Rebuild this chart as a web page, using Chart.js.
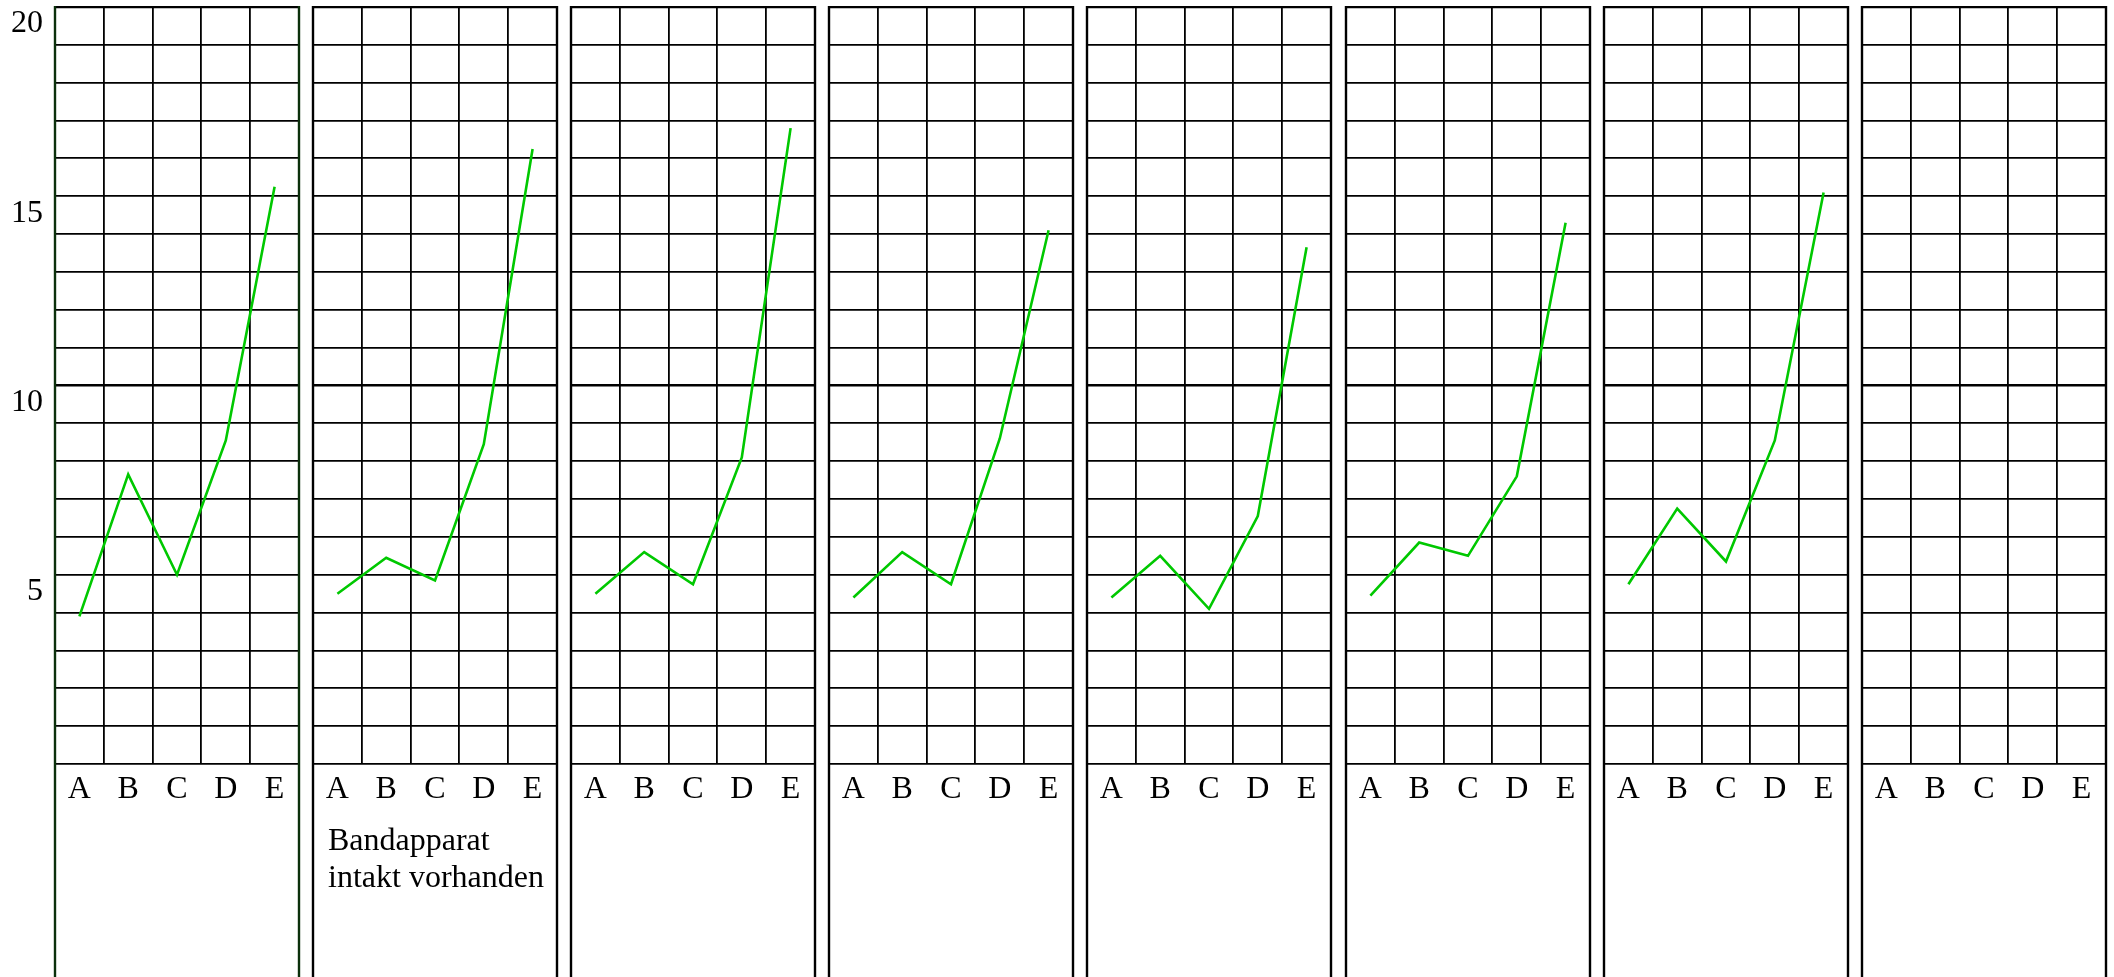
<!DOCTYPE html>
<html><head><meta charset="utf-8">
<script src="https://cdn.jsdelivr.net/npm/chart.js@4.4.1/dist/chart.umd.min.js"></script>
<style>
html,body{margin:0;padding:0;background:#fff;width:2114px;height:977px;overflow:hidden;}
#wrap{position:relative;width:2114px;height:977px;}
#wrap canvas{position:absolute;top:0;}
</style></head><body><div id="wrap"></div>
<script>
// ---- data ----
const categories = ['A', 'B', 'C', 'D', 'E'];
const yTickLabels = [5, 10, 15, 20];
const panel1 = [3.9, 7.65, 5.0, 8.55, 15.25];
const panel2 = [4.5, 5.45, 4.85, 8.45, 16.25];
const panel3 = [4.5, 5.6, 4.75, 8.1, 16.8];
const panel4 = [4.4, 5.6, 4.75, 8.6, 14.1];
const panel5 = [4.4, 5.5, 4.1, 6.55, 13.65];
const panel6 = [4.45, 5.85, 5.5, 7.6, 14.3];
const panel7 = [4.75, 6.75, 5.35, 8.55, 15.1];
const panel8 = [];
const panelSeries = [panel1, panel2, panel3, panel4, panel5, panel6, panel7, panel8];
const panelNotes = [[], ['Bandapparat', 'intakt vorhanden'], [], [], [], [], [], []];

// ---- layout / style ----
const AREA_LEFT = 55, PITCH = 258.1, AREA_W = 243.5, AREA_TOP = 7, AREA_BOTTOM = 764, H = 977, M = 6, YAXIS_W = 55;
const LINE_GREEN = '#00c800';

Chart.defaults.font.family = "'Liberation Serif', 'Times New Roman', serif";
Chart.defaults.font.size = 32;
Chart.defaults.color = '#000';

const framePlugin = {
  id: 'frame',
  afterDraw(chart, args, opts) {
    const ctx = chart.ctx, a = chart.chartArea;
    ctx.save();
    ctx.strokeStyle = opts.color;
    ctx.lineWidth = 2.4;
    ctx.beginPath();
    ctx.moveTo(a.left, a.top - 1); ctx.lineTo(a.left, chart.height);
    ctx.moveTo(a.right, a.top - 1); ctx.lineTo(a.right, chart.height);
    ctx.stroke();
    ctx.fillStyle = '#000';
    ctx.font = "32px 'Liberation Serif', serif";
    ctx.textBaseline = 'alphabetic';
    ctx.textAlign = 'left';
    (opts.notes || []).forEach((t, i) => ctx.fillText(t, a.left + 15, a.bottom + 86 + i * 37));
    ctx.restore();
  }
};

const wrap = document.getElementById('wrap');
panelSeries.forEach((vals, i) => {
  const first = i === 0;
  const areaLeft = Math.round(AREA_LEFT + i * PITCH);
  const canvasLeft = first ? 0 : areaLeft - M;
  const padLeft = first ? 0 : M;
  const yw = first ? YAXIS_W : 0;
  const width = Math.round(areaLeft + AREA_W + M) - canvasLeft;
  const cv = document.createElement('canvas');
  cv.width = width; cv.height = H;
  cv.style.left = canvasLeft + 'px';
  cv.style.width = width + 'px'; cv.style.height = H + 'px';
  wrap.appendChild(cv);
  new Chart(cv, {
    type: 'line',
    data: {
      labels: categories,
      datasets: [{ data: vals, borderColor: LINE_GREEN, borderWidth: 2.6, pointRadius: 0, tension: 0, fill: false }]
    },
    plugins: [framePlugin],
    options: {
      responsive: false, animation: false, events: [],
      layout: { padding: { top: AREA_TOP, left: padLeft, right: M, bottom: 0 } },
      plugins: {
        legend: { display: false }, tooltip: { enabled: false },
        frame: { color: first ? '#0b300b' : '#000', notes: panelNotes[i] }
      },
      scales: {
        x: {
          type: 'category', offset: true,
          grid: { offset: true, color: '#000', lineWidth: 1.8, drawTicks: false },
          border: { display: false },
          ticks: { padding: 6, maxRotation: 0, minRotation: 0, autoSkip: false, font: { size: 32 } },
          afterFit(s) { s.height = H - AREA_BOTTOM; s.paddingLeft = 0; s.paddingRight = 0; }
        },
        y: {
          min: 0, max: 20,
          ticks: {
            display: first, stepSize: 1, padding: 12, labelOffset: 17, autoSkip: false, font: { size: 32 },
            callback: v => yTickLabels.includes(v) ? String(v) : ''
          },
          grid: {
            drawTicks: false, color: '#000',
            lineWidth: c => c.tick && c.tick.value === 10 ? 2.6 : (c.tick && c.tick.value === 20 ? 2.2 : 1.8)
          },
          border: { display: false },
          afterFit(s) { s.width = yw; s.paddingTop = 0; s.paddingBottom = 0; }
        }
      }
    }
  });
});
</script></body></html>
